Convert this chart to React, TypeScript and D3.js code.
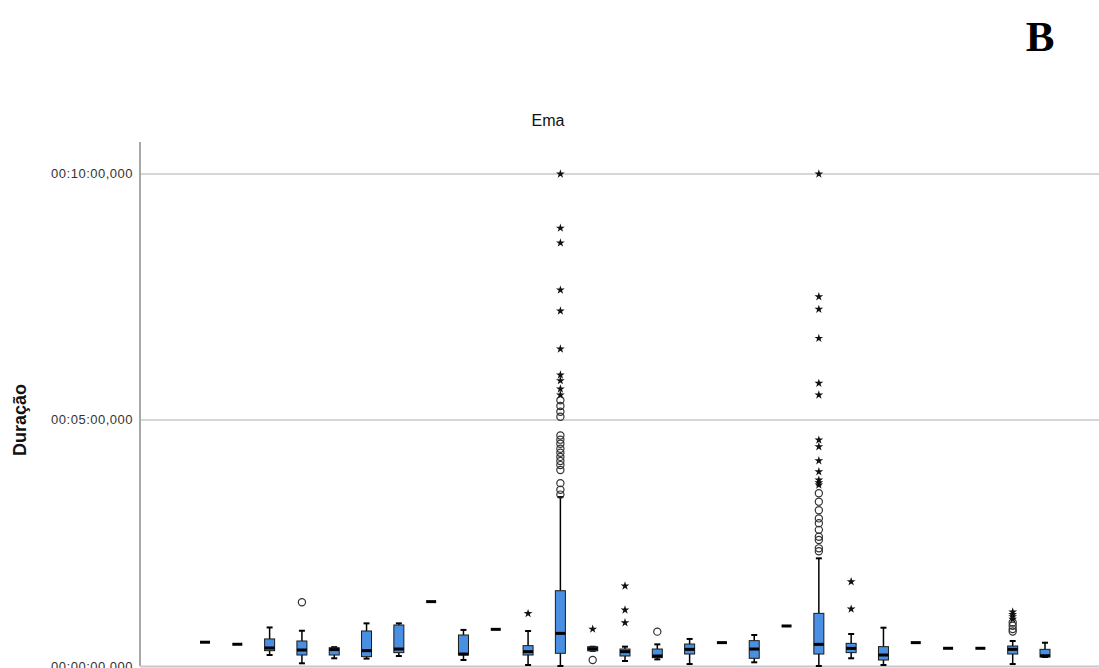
import React from "react";
import * as d3 from "d3";

const categories = Array.from({ length: 27 }, (_, i) => `G${i + 1}`);
// seconds
const whiskerLow = [29, 26.5, 13.4, 3.3, 9.4, 9, 12.2, 78.5, 7.3, 44.7, 1.2, 0, 18.5, 6.1, 8.1, 2.4, 28.5, 4.5, 48.8, 0, 9.4, 1.2, 28.5, 21.6, 21.6, 2.4, 11];
const q1 = [29, 26.5, 18.7, 13.4, 13.4, 11.4, 16.3, 78.5, 13.4, 44.7, 13.4, 15.5, 18.5, 12.2, 10.2, 14.6, 28.5, 9.4, 48.8, 14.6, 16.3, 7.3, 28.5, 21.6, 21.6, 14.6, 11];
const median = [29, 26.5, 22, 19.5, 20, 18.7, 20.7, 78.5, 14.6, 44.7, 17.5, 39.8, 21, 17.5, 12.2, 20.3, 28.5, 20.7, 48.8, 26.4, 21.5, 13.4, 28.5, 21.6, 21.6, 20.3, 12.5];
const q3 = [29, 26.5, 33, 30.5, 22.3, 42.7, 50, 78.5, 37.8, 44.7, 24.8, 91.8, 23.5, 20.7, 20.7, 26.8, 28.5, 30.9, 48.8, 64.2, 27.6, 23.6, 28.5, 21.6, 21.6, 24.4, 20.3];
const whiskerHigh = [29, 26.5, 47, 43, 23, 52, 52, 78.5, 44, 44.7, 42.7, 206, 23.5, 23.6, 26.4, 33, 28.5, 37.8, 48.8, 131.3, 39, 46.7, 28.5, 21.6, 21.6, 30.5, 28.4];
const outliers: number[][] = [
  [], [], [], [77.7], [], [], [], [], [], [], [],
  [324, 317, 310, 304, 281, 276, 271, 265, 260, 255, 250, 245, 239, 223, 215, 209],
  [7.3], [], [41.9], [], [], [], [],
  [210.6, 200.4, 190, 180, 174, 166, 157.7, 153.7, 143.5, 140],
  [], [], [], [], [],
  [53, 49, 45, 42], [],
];
const extremes: number[][] = [
  [], [], [], [], [], [], [], [], [], [], [64],
  [600, 534, 516, 458.5, 433, 386.6, 355, 348, 337.8, 330.5],
  [45], [97.6, 68.3, 52.8], [], [], [], [], [],
  [600, 450.4, 435, 399.6, 344.8, 330.5, 275.6, 267.5, 250.4, 237, 226.8, 223.5, 220.7],
  [102.8, 69.5], [], [], [], [],
  [66, 63, 60, 57], [],
];
const yTicks = [0, 300, 600];

const W = 1099;
const H = 668;
const plotLeft = 140;
const plotRight = 1099;
const yMax = 639;

function fmt(s: number) {
  const h = Math.floor(s / 3600);
  const m = Math.floor((s % 3600) / 60);
  const sec = Math.floor(s % 60);
  const p = (n: number) => String(n).padStart(2, "0");
  return `${p(h)}:${p(m)}:${p(sec)},000`;
}

export default function App() {
  const x = d3.scalePoint<string>().domain(categories).range([205, 1045]);
  const y = d3.scaleLinear().domain([0, yMax]).range([666, 142]);
  const star = d3.symbol().type(d3.symbolStar).size(24)() as string;
  const boxW = 10;
  const capW = 6;
  const font = "Arial, 'Liberation Sans', sans-serif";

  return (
    <svg width={W} height={H} style={{ position: "fixed", left: 0, top: 0, background: "#fff" }}>
      <rect x={0} y={0} width={W} height={H} fill="#fff" />
      <text x={1040} y={51} textAnchor="middle" fontFamily="'Times New Roman', 'Liberation Serif', serif" fontWeight="bold" fontSize={43}>B</text>
      <text x={548} y={126} textAnchor="middle" fontFamily={font} fontSize={16} fill="#111">Ema</text>
      <text transform={`translate(26,${y(300)}) rotate(-90)`} textAnchor="middle" fontFamily={font} fontWeight="bold" fontSize={18} fill="#111">Duração</text>
      {yTicks.map((t) => (
        <g key={t}>
          {t > 0 && <line x1={plotLeft} x2={plotRight} y1={y(t)} y2={y(t)} stroke="#c8c8c8" strokeWidth={1.5} />}
          <text x={133} y={y(t) + 4.5} textAnchor="end" fontFamily={font} fontSize={13} letterSpacing={0.5} fill="#333">{fmt(t)}</text>
        </g>
      ))}
      <line x1={plotLeft} x2={plotLeft} y1={y(yMax)} y2={y(0)} stroke="#a8a8a8" strokeWidth={2} />
      <line x1={plotLeft} x2={plotRight} y1={y(0) + 0.5} y2={y(0) + 0.5} stroke="#c8c8c8" strokeWidth={2} />
      {categories.map((c, i) => {
        const cx = x(c) as number;
        const single = whiskerLow[i] === whiskerHigh[i] && q1[i] === q3[i];
        return (
          <g key={c}>
            {single ? (
              <line x1={cx - 5} x2={cx + 5} y1={y(median[i])} y2={y(median[i])} stroke="#000" strokeWidth={3} />
            ) : (
              <g>
                <line x1={cx} x2={cx} y1={y(whiskerHigh[i])} y2={y(q3[i])} stroke="#000" strokeWidth={1.5} />
                <line x1={cx} x2={cx} y1={y(q1[i])} y2={y(whiskerLow[i])} stroke="#000" strokeWidth={1.5} />
                <line x1={cx - capW / 2} x2={cx + capW / 2} y1={y(whiskerHigh[i])} y2={y(whiskerHigh[i])} stroke="#000" strokeWidth={2} />
                <line x1={cx - capW / 2} x2={cx + capW / 2} y1={y(whiskerLow[i])} y2={y(whiskerLow[i])} stroke="#000" strokeWidth={2} />
                <rect x={cx - boxW / 2} y={y(q3[i])} width={boxW} height={Math.max(1, y(q1[i]) - y(q3[i]))} fill="#4a90e2" stroke="#1a1a1a" strokeWidth={1} />
                <line x1={cx - boxW / 2} x2={cx + boxW / 2} y1={y(median[i])} y2={y(median[i])} stroke="#000" strokeWidth={3} />
              </g>
            )}
            {outliers[i].map((v, j) => (
              <circle key={"o" + j} cx={cx} cy={y(v)} r={3.6} fill="none" stroke="#333" strokeWidth={1.2} />
            ))}
            {extremes[i].map((v, j) => (
              <path key={"e" + j} d={star} transform={`translate(${cx},${y(v)})`} fill="#111" />
            ))}
          </g>
        );
      })}
    </svg>
  );
}
